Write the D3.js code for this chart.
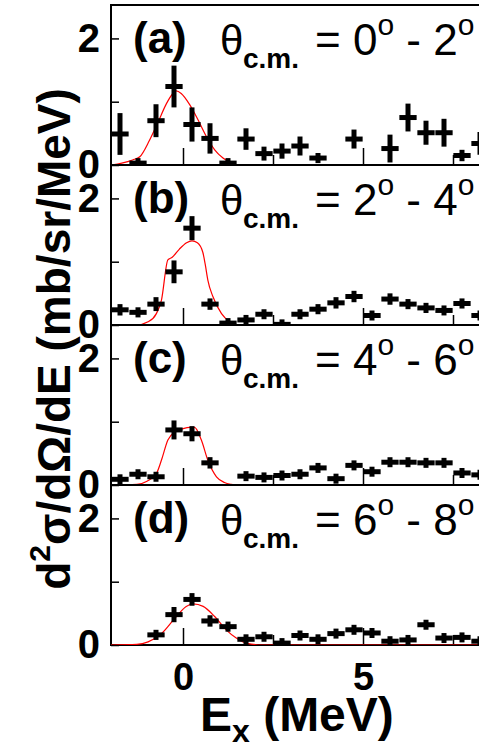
<!DOCTYPE html>
<html>
<head>
<meta charset="utf-8">
<script src="https://cdn.jsdelivr.net/npm/d3@7"></script>
<style>
body { margin: 0; background: #fff; }
svg { display: block; }
text { font-family: "Liberation Sans", Arial, sans-serif; fill: #000; }
</style>
</head>
<body>
<svg id="fig" width="479" height="747"></svg>
<script>
"use strict";

// DONNÉES

// centres des bins en Ex (MeV)
var binsEx = [-1.75, -1.25, -0.75, -0.25, 0.25, 0.75, 1.25, 1.75, 2.25, 2.75, 3.25,
	3.75, 4.25, 4.75, 5.25, 5.75, 6.25, 6.75, 7.25, 7.75, 8.25];
var demiBin = 0.24;

var valA = [0.49, 0.03, 0.70, 1.24, 0.64, 0.42, 0.03, 0.41, 0.18, 0.22, 0.30, 0.11, null, 0.41, null, 0.26, 0.75, 0.51, 0.51, 0.15, 0.34];
var errA = [0.33, 0.03, 0.26, 0.33, 0.27, 0.24, 0.03, 0.17, 0.11, 0.12, 0.15, 0.08, 0, 0.15, 0, 0.22, 0.22, 0.19, 0.22, 0.09, 0.18];

var valB = [0.24, 0.20, 0.33, 0.84, 1.53, 0.33, 0.03, 0.08, 0.17, 0.01, 0.17, 0.25, 0.35, 0.45, 0.15, 0.41, 0.33, 0.27, 0.23, 0.34, 0.15];
var errB = [0.09, 0.08, 0.11, 0.18, 0.19, 0.09, 0.05, 0.06, 0.07, 0.03, 0.07, 0.08, 0.09, 0.09, 0.07, 0.09, 0.08, 0.08, 0.07, 0.08, 0.07];

var valC = [0.09, 0.17, 0.13, 0.87, 0.81, 0.35, null, 0.14, 0.12, 0.15, 0.17, 0.27, 0.10, 0.31, 0.21, 0.36, 0.36, 0.35, 0.35, 0.19, 0.16];
var errC = [0.06, 0.06, 0.06, 0.15, 0.12, 0.09, 0, 0.06, 0.05, 0.06, 0.06, 0.07, 0.05, 0.07, 0.06, 0.07, 0.07, 0.07, 0.07, 0.06, 0.06];

var valD = [null, null, 0.16, 0.48, 0.72, 0.38, 0.29, 0.09, 0.13, 0.03, 0.15, 0.09, 0.18, 0.24, 0.19, 0.06, 0.08, 0.32, 0.11, 0.12, 0.06];
var errD = [0, 0, 0.08, 0.12, 0.10, 0.09, 0.08, 0.06, 0.06, 0.03, 0.06, 0.05, 0.06, 0.07, 0.06, 0.05, 0.05, 0.07, 0.05, 0.05, 0.05];

// courbes rouges (ajustement)
var courbeAx = [-2.0, -1.7, -1.4, -1.2, -0.93, -0.69, -0.46, -0.28, -0.19, -0.05, 0.19, 0.42, 0.65, 0.88, 1.11, 1.39, 1.6, 8.5];
var courbeAy = [0.0, 0.03, 0.08, 0.13, 0.39, 0.68, 0.97, 1.13, 1.17, 1.13, 0.95, 0.71, 0.45, 0.24, 0.11, 0.02, 0, 0];

var courbeBx = [-2.0, -1.29, -0.97, -0.74, -0.6, -0.42, -0.3, -0.1, 0.1, 0.25, 0.4, 0.55, 0.62, 0.69, 0.83, 1.07, 1.3, 1.5, 8.5];
var courbeBy = [0, 0, 0.05, 0.18, 0.39, 1.03, 1.07, 1.2, 1.3, 1.33, 1.3, 1.15, 0.95, 0.71, 0.45, 0.18, 0.05, 0, 0];

var courbeCx = [-2.0, -1.28, -1.0, -0.74, -0.6, -0.42, -0.23, 0.0, 0.19, 0.32, 0.51, 0.69, 0.93, 1.15, 1.34, 1.5, 8.5];
var courbeCy = [0, 0.01, 0.06, 0.18, 0.39, 0.71, 0.84, 0.89, 0.91, 0.91, 0.71, 0.39, 0.13, 0.04, 0.01, 0, 0];

var courbeDx = [-2.0, -1.28, -0.97, -0.6, -0.23, 0.09, 0.28, 0.56, 0.88, 1.2, 1.48, 1.76, 2.2, 8.5];
var courbeDy = [0, 0.01, 0.05, 0.18, 0.42, 0.61, 0.65, 0.61, 0.45, 0.24, 0.11, 0.03, 0, 0];

var lettres = ["(a)", "(b)", "(c)", "(d)"];
var anglesMin = ["0", "2", "4", "6"];
var anglesMax = ["2", "4", "6", "8"];

var yTicks = [0, 1, 2];
var yLabels = [0, 2];
var xMajeurs = [0, 5];
var xMineurs = [2.5, 7.5];


// MISE EN PAGE

var gauche = 111, haut = 5, hPanneau = 160, largeur = 378;

var panneaux = [
	{ val: valA, err: errA, cx: courbeAx, cy: courbeAy },
	{ val: valB, err: errB, cx: courbeBx, cy: courbeBy },
	{ val: valC, err: errC, cx: courbeCx, cy: courbeCy },
	{ val: valD, err: errD, cx: courbeDx, cy: courbeDy }
];

var x = d3.scaleLinear().domain([-2, 8.5]).range([gauche, gauche + largeur]);

var svg = d3.select("#fig");
var defs = svg.append("defs");

panneaux.forEach(function (p, i) {
	var pt = haut + i * hPanneau;
	var y = d3.scaleLinear().domain([0, 2.528]).range([pt + hPanneau, pt]);
	var g = svg.append("g").attr("class", "panneau");

	defs.append("clipPath")
	.attr("id", "clip" + i)
	.append("rect")
	.attr("x", gauche)
	.attr("y", pt)
	.attr("width", largeur)
	.attr("height", hPanneau);

// cadre
	g.append("rect")
	.attr("x", gauche)
	.attr("y", pt)
	.attr("width", largeur)
	.attr("height", hPanneau)
	.attr("fill", "none")
	.attr("stroke", "#000")
	.attr("stroke-width", 2);

// axes
	var axeY = g.append("g")
	.attr("transform", "translate(" + gauche + ",0)")
	.call(d3.axisLeft(y)
		.tickValues(yTicks)
		.tickSizeInner(-8)
		.tickSizeOuter(0)
		.tickPadding(11)
		.tickFormat(d => yLabels.indexOf(d) >= 0 ? d : ""));
	axeY.select(".domain").remove();
	axeY.selectAll("line").attr("stroke-width", 1.5);
	axeY.selectAll("text")
	.attr("font-size", 40)
	.attr("font-weight", "bold")
	.attr("fill", "#000");

	var axeX = g.append("g")
	.attr("transform", "translate(0," + (pt + hPanneau) + ")")
	.call(d3.axisBottom(x)
		.tickValues(xMajeurs)
		.tickSizeInner(-17)
		.tickSizeOuter(0)
		.tickPadding(18)
		.tickFormat(d => i === 3 ? d : ""));
	axeX.select(".domain").remove();
	axeX.selectAll("line").attr("stroke-width", 1.5);
	axeX.selectAll("text")
	.attr("font-size", 38)
	.attr("font-weight", "bold")
	.attr("fill", "#000");

	var axeXmin = g.append("g")
	.attr("transform", "translate(0," + (pt + hPanneau) + ")")
	.call(d3.axisBottom(x)
		.tickValues(xMineurs)
		.tickSizeInner(-10)
		.tickSizeOuter(0)
		.tickFormat(""));
	axeXmin.select(".domain").remove();
	axeXmin.selectAll("line").attr("stroke-width", 1.5);

// courbe rouge
	var ligne = d3.line()
	.x(d => x(d[0]))
	.y(d => y(d[1]))
	.curve(d3.curveMonotoneX);
	g.append("path")
	.datum(d3.zip(p.cx, p.cy))
	.attr("clip-path", "url(#clip" + i + ")")
	.attr("d", ligne)
	.attr("fill", "none")
	.attr("stroke", "#ff0000")
	.attr("stroke-width", 1.2);

// points avec barres d'erreur
	var pts = binsEx.map((e, k) => ({ e: e, v: p.val[k], s: p.err[k] }))
	.filter(d => d.v !== null);
	var gp = g.append("g")
	.attr("clip-path", "url(#clip" + i + ")")
	.attr("stroke", "#000")
	.attr("stroke-width", 5);
	gp.selectAll("line.h")
	.data(pts)
	.enter()
		.append("line")
		.attr("class", "h")
		.attr("x1", d => x(d.e - demiBin))
		.attr("x2", d => x(d.e + demiBin))
		.attr("y1", d => y(d.v))
		.attr("y2", d => y(d.v));
	gp.selectAll("line.v")
	.data(pts)
	.enter()
		.append("line")
		.attr("class", "v")
		.attr("x1", d => x(d.e))
		.attr("x2", d => x(d.e))
		.attr("y1", d => Math.max(y(d.v) + 5, y(d.v - d.s)))
		.attr("y2", d => Math.min(y(d.v) - 5, y(d.v + d.s)));

// étiquette du panneau
	g.append("text")
	.attr("x", 133)
	.attr("y", pt + 48)
	.attr("font-size", 44)
	.attr("font-weight", "bold")
	.text(lettres[i]);

	g.append("text")
	.attr("x", 220)
	.attr("y", pt + 50)
	.attr("font-size", 42)
	.text("θ");

	g.append("text")
	.attr("x", 243)
	.attr("y", pt + 63)
	.attr("font-size", 28)
	.attr("font-weight", "bold")
	.text("c.m.");

	var t = g.append("text")
	.attr("x", 315)
	.attr("y", pt + 50)
	.attr("font-size", 44);
	t.append("tspan").text("= " + anglesMin[i]);
	t.append("tspan").attr("font-size", 30).attr("dy", -20).text("o");
	t.append("tspan").attr("dy", 20).text(" - " + anglesMax[i]);
	t.append("tspan").attr("font-size", 30).attr("dy", -20).text("o");
});

// titres des axes
var titreY = svg.append("text")
.attr("transform", "translate(70,339) rotate(-90)")
.attr("text-anchor", "middle")
.attr("font-size", 46)
.attr("font-weight", "bold");
titreY.append("tspan").text("d");
titreY.append("tspan").attr("font-size", 30).attr("dy", -20).text("2");
titreY.append("tspan").attr("dy", 20).text("σ/dΩ/dE (mb/sr/MeV)");

var titreX = svg.append("text")
.attr("x", 200)
.attr("y", 731)
.attr("font-size", 48)
.attr("font-weight", "bold");
titreX.append("tspan").text("E");
titreX.append("tspan").attr("font-size", 32).attr("dy", 11).text("x");
titreX.append("tspan").attr("dy", -11).text(" (MeV)");
</script>
</body>
</html>
